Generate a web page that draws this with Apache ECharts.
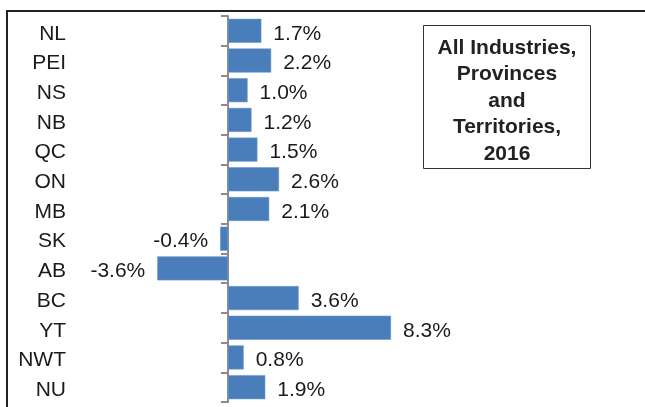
<!DOCTYPE html>
<html>
<head>
<meta charset="utf-8">
<script src="https://cdn.jsdelivr.net/npm/echarts@6/dist/echarts.min.js"></script>
<style>
html,body{margin:0;padding:0;background:#fff;}
#c{width:645px;height:407px;}
</style>
</head>
<body>
<div id="c"></div>
<script>
const categories = ['NL','PEI','NS','NB','QC','ON','MB','SK','AB','BC','YT','NWT','NU'];
const values = [1.7, 2.2, 1.0, 1.2, 1.5, 2.6, 2.1, -0.4, -3.6, 3.6, 8.3, 0.8, 1.9];
const titleLines = ['All Industries,','Provinces','and','Territories,','2016'];

const FONT = 'Arial, "Liberation Sans", Helvetica, sans-serif';
const chart = echarts.init(document.getElementById('c'), null, {renderer:'canvas'});

const barData = values.map(v => ({
  value: v,
  label: { position: v < 0 ? 'left' : 'right' }
}));

chart.setOption({
  animation: false,
  backgroundColor: '#fff',
  grid: { left: 149.4, right: 220.6, top: 16, bottom: 5, containLabel: false, outerBoundsMode: 'none' },
  xAxis: {
    type: 'value', min: -4, max: 10,
    show: false
  },
  yAxis: [{
    type: 'category',
    data: categories,
    inverse: true,
    axisLine: { show: true, onZero: true, lineStyle: { color: '#8c8c8c', width: 2 } },
    axisTick: { show: true, length: 7, lineStyle: { color: '#8c8c8c', width: 2 } },
    axisLabel: { show: false },
    splitLine: { show: false }
  }, {
    type: 'category',
    data: categories,
    inverse: true,
    position: 'left',
    axisLine: { show: false, onZero: false },
    axisTick: { show: false },
    axisLabel: {
      margin: 83.4, align: 'right', verticalAlign: 'middle',
      formatter: v => '{a|' + v + '}',
      rich: { a: { fontSize: 21, color: '#1a1a1a', fontFamily: FONT, padding: [6, 0, 0, 0] } }
    },
    splitLine: { show: false }
  }],
  series: [{
    type: 'bar',
    data: barData,
    barCategoryGap: '19%',
    itemStyle: { color: '#4a7ebb', borderColor: '#6a98cf', borderWidth: 0.6 },
    label: {
      show: true,
      distance: 12,
      offset: [0, 3],
      fontSize: 21,
      color: '#1a1a1a',
      fontFamily: FONT,
      formatter: p => p.value.toFixed(1) + '%'
    }
  }],
  graphic: [
    { type: 'rect', shape: { x: 7, y: 11, width: 700, height: 500 },
      style: { fill: null, stroke: '#222', lineWidth: 2 }, silent: true },
    { type: 'rect', shape: { x: 423.5, y: 25.5, width: 167, height: 143 },
      style: { fill: '#fff', stroke: '#333', lineWidth: 1 }, silent: true, z: 10 },
    { type: 'text', x: 507, y: 101, z: 11,
      style: { text: titleLines.join('\n'), fontSize: 21, fontWeight: 'bold', fontFamily: FONT,
        fill: '#222', align: 'center', verticalAlign: 'middle', lineHeight: 26.5 } }
  ]
});
</script>
</body>
</html>
